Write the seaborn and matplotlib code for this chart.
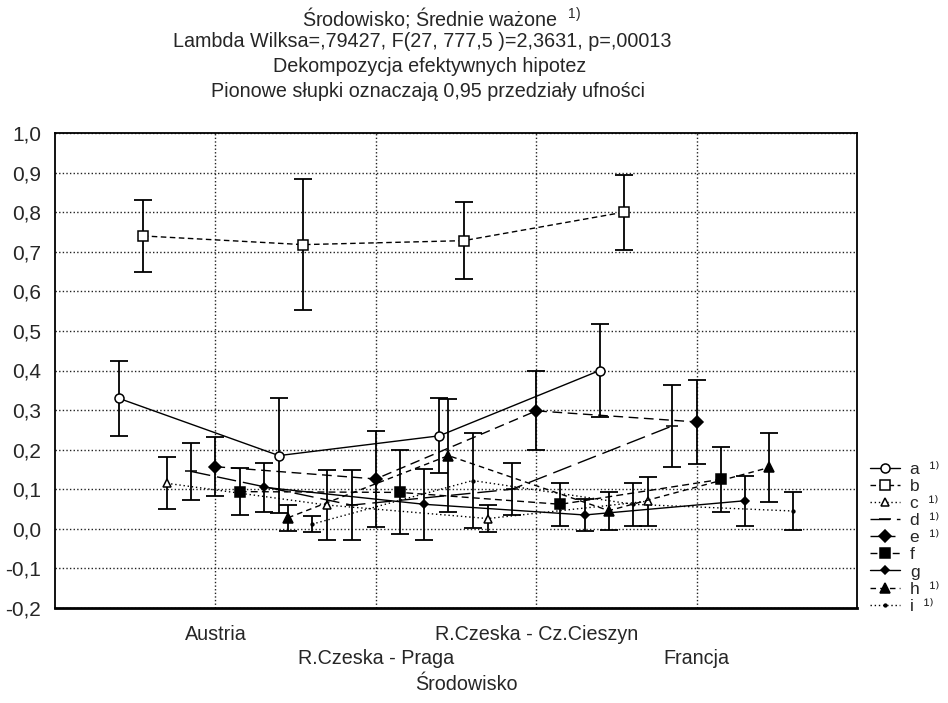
import numpy as np
import pandas as pd
import matplotlib
matplotlib.use("Agg")
import matplotlib.pyplot as plt
import seaborn as sns

# Categories (environment) and weighted means with 0.95 confidence half-widths
categories = ["Austria", "R.Czeska - Praga", "R.Czeska - Cz.Cieszyn", "Francja"]
series_names = ["a", "b", "c", "d", "e", "f", "g", "h", "i"]

a_mean = [0.33, 0.185, 0.235, 0.40]
a_ci = [0.095, 0.145, 0.095, 0.118]
b_mean = [0.74, 0.718, 0.728, 0.80]
b_ci = [0.09, 0.165, 0.097, 0.095]
c_mean = [0.115, 0.06, 0.026, 0.07]
c_ci = [0.066, 0.089, 0.033, 0.062]
d_mean = [0.145, 0.06, 0.10, 0.26]
d_ci = [0.073, 0.089, 0.066, 0.103]
e_mean = [0.157, 0.126, 0.298, 0.27]
e_ci = [0.075, 0.121, 0.10, 0.105]
f_mean = [0.094, 0.092, 0.062, 0.125]
f_ci = [0.06, 0.106, 0.054, 0.082]
g_mean = [0.105, 0.062, 0.035, 0.071]
g_ci = [0.062, 0.089, 0.04, 0.063]
h_mean = [0.028, 0.185, 0.046, 0.155]
h_ci = [0.033, 0.142, 0.048, 0.088]
i_mean = [0.012, 0.122, 0.062, 0.045]
i_ci = [0.02, 0.12, 0.054, 0.048]

# Series flagged with the footnote marker
footnoted = ["a", "c", "d", "e", "h", "i"]

means = [a_mean, b_mean, c_mean, d_mean, e_mean, f_mean, g_mean, h_mean, i_mean]
cis = [a_ci, b_ci, c_ci, d_ci, e_ci, f_ci, g_ci, h_ci, i_ci]

rows = []
for k, name in enumerate(series_names):
    for j, cat in enumerate(categories):
        rows.append({"series": name, "cat_idx": j + 1, "category": cat,
                     "mean": means[k][j], "ci": cis[k][j], "k": k})
df = pd.DataFrame(rows)

# Horizontal spread of the series around each category position
spread = 0.151
df["xpos"] = df["cat_idx"] + (df["k"] - 4) * spread

# Line/marker styling per series
styles = {
    "a": dict(ls="-", marker="o", mfc="white", ms=6.5),
    "b": dict(ls=(0, (4, 2.5)), marker="s", mfc="white", ms=7),
    "c": dict(ls=(0, (1, 2)), marker="^", mfc="white", ms=5.5),
    "d": dict(ls=(0, (14, 5)), marker="_", mfc="black", ms=9),
    "e": dict(ls=(0, (7, 4)), marker="D", mfc="black", ms=6.5),
    "f": dict(ls=(0, (5, 3)), marker="s", mfc="black", ms=7.5),
    "g": dict(ls="-", marker="D", mfc="black", ms=4.5),
    "h": dict(ls=(0, (4, 3)), marker="^", mfc="black", ms=7),
    "i": dict(ls=(0, (1, 2)), marker=".", mfc="black", ms=4),
}

sns.set_theme(style="white")
plt.rcParams["font.family"] = ["Liberation Sans", "DejaVu Sans"]
plt.rcParams["mathtext.fontset"] = "custom"
plt.rcParams["mathtext.rm"] = "Liberation Sans"

FS = 14.2

fig = plt.figure(figsize=(9.48, 7.03), dpi=100)
ax = fig.add_axes([55 / 948, 1 - 608 / 703, (857 - 55) / 948, (608 - 133) / 703])

handles = []
for name in series_names:
    sub = df[df["series"] == name]
    st = styles[name]
    ax.errorbar(sub["xpos"], sub["mean"], yerr=sub["ci"], fmt="none",
                ecolor="black", elinewidth=1.3, capsize=6.5, capthick=1.3, zorder=3)
    sns.lineplot(data=sub, x="xpos", y="mean", ax=ax, color="black",
                 linestyle=st["ls"], linewidth=1.0, marker=st["marker"],
                 markerfacecolor=st["mfc"], markeredgecolor="black",
                 markeredgewidth=1.1, markersize=st["ms"], errorbar=None,
                 sort=False, zorder=4)
    handles.append(ax.lines[-1])

labels = [n + ("  \u00b9\u207e" if n in footnoted else "") for n in series_names]
leg = ax.get_legend()
if leg is not None:
    leg.remove()
fig.legend(handles, labels, loc="upper left",
           bbox_to_anchor=(870 / 948, 1 - 462 / 703), frameon=False,
           fontsize=12.5, labelspacing=0.11, handlelength=1.75,
           handletextpad=0.55, borderpad=0, borderaxespad=0)

# Axes limits, ticks and grid
ax.set_xlim(0, 5)
ax.set_ylim(-0.2, 1.0)
yt = np.round(np.arange(-0.2, 1.0001, 0.1), 1)
ax.set_yticks(yt)
ax.set_yticklabels([f"{v:.1f}".replace(".", ",").replace("-0,0", "0,0") for v in yt])
ax.set_xticks([1, 2, 3, 4])
ax.set_xticklabels([categories[0], "\n" + categories[1], categories[2], "\n" + categories[3]])
for lbl in ax.get_xticklabels():
    lbl.set_linespacing(1.38)
ax.tick_params(axis="y", length=0, pad=10, labelsize=15)
ax.tick_params(axis="x", direction="in", length=4, width=1, pad=12, labelsize=FS)

ax.grid(True, color="#222222", linestyle=(0, (1, 1.6)), linewidth=1.0)
ax.set_axisbelow(True)
for sp in ax.spines.values():
    sp.set_visible(True)
    sp.set_color("black")
    sp.set_linewidth(1.3)
ax.spines["bottom"].set_linewidth(2)

ax.set_xlabel("Środowisko", fontsize=FS)
ax.set_ylabel("")
ax.xaxis.set_label_coords((466 - 55) / 802, (608 - 684) / 475)
ax.xaxis.label.set_va("center")

# Header lines above the plot
title_lines = [
    r"Środowisko; Średnie ważone  $^{1)}$",
    "Lambda Wilksa=,79427, F(27, 777,5 )=2,3631, p=,00013",
    "Dekompozycja efektywnych hipotez",
    "Pionowe słupki oznaczają 0,95 przedziały ufności",
]
title_x = [442, 422, 430, 428]
for n, txt in enumerate(title_lines):
    fig.text(title_x[n] / 948, 1 - (17 + 24.8 * n) / 703, txt, ha="center", va="center",
             fontsize=FS)

fig.savefig("out.png", dpi=100, facecolor="white")
